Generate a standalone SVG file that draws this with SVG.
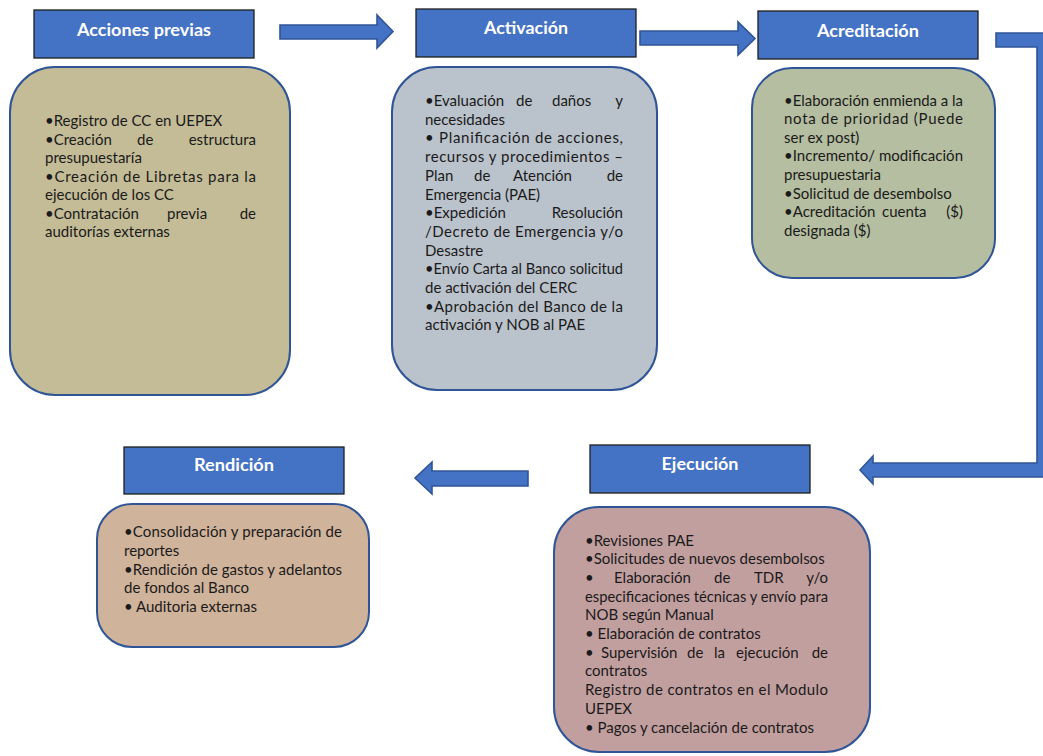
<svg xmlns="http://www.w3.org/2000/svg" width="1043" height="756" viewBox="0 0 1043 756">
<style>
.hdr rect{fill:#4472C4;stroke:#1e1e1e;stroke-width:1.3}
.hdr text{fill:#ffffff;font-family:Lato,"Open Sans","Liberation Sans",sans-serif;font-weight:bold;font-size:16.5px;text-anchor:middle}
.card rect{stroke:#2F5597;stroke-width:2}
.card text{fill:#1a1a1a;font-family:Lato,"Open Sans","Liberation Sans",sans-serif;font-size:15px}
.arr{fill:#4472C4;stroke:#2F5597;stroke-width:1.6;stroke-linejoin:miter}
</style>
<rect width="1043" height="756" fill="#ffffff"/>

<g id="connectors">
<polygon class="arr" points="280,25 377,25 377,15 393,31.5 377,48 377,39 280,39"/>
<polygon class="arr" points="640,31 738,31 738,22 755,38.5 738,55 738,45 640,45"/>
<polygon class="arr" points="996,33 1052,33 1052,477 873,477 873,484 860,470 873,456 873,463 1037,463 1037,47 996,47"/>
<polygon class="arr" points="528,471 432,471 432,462 415,478 432,494 432,486 528,486"/>
</g>

<g id="acciones-previas">
<g class="hdr"><rect x="34" y="10" width="220" height="48"/><text x="144" y="36" textLength="134" lengthAdjust="spacingAndGlyphs">Acciones previas</text></g>
<g class="card"><rect x="10" y="67" width="280" height="328" rx="45" ry="45" fill="#C4BC96"/>
<text x="45" y="126">•Registro de CC en UEPEX</text>
<text y="144.5"><tspan x="45">•Creación</tspan><tspan x="137">de</tspan><tspan x="256" text-anchor="end">estructura</tspan></text>
<text x="45" y="163">presupuestaría</text>
<text x="45" y="181.5" textLength="211" lengthAdjust="spacing">•Creación de Libretas para la</text>
<text x="45" y="200">ejecución de los CC</text>
<text y="218.5"><tspan x="45">•Contratación</tspan><tspan x="167">previa</tspan><tspan x="256" text-anchor="end">de</tspan></text>
<text x="45" y="237">auditorías externas</text>
</g>
</g>

<g id="activacion">
<g class="hdr"><rect x="416" y="9" width="220" height="48"/><text x="526" y="34" textLength="84" lengthAdjust="spacingAndGlyphs">Activación</text></g>
<g class="card"><rect x="392" y="67" width="265" height="323" rx="45" ry="45" fill="#BAC2CB"/>
<text y="106"><tspan x="425">•Evaluación</tspan><tspan x="516">de</tspan><tspan x="552">daños</tspan><tspan x="623" text-anchor="end">y</tspan></text>
<text x="425" y="124.7">necesidades</text>
<text x="425" y="143.4" textLength="198" lengthAdjust="spacing">• Planificación de acciones,</text>
<text x="425" y="162.1" textLength="198" lengthAdjust="spacing">recursos y procedimientos –</text>
<text y="180.8"><tspan x="425">Plan</tspan><tspan x="474">de</tspan><tspan x="513">Atención</tspan><tspan x="623" text-anchor="end">de</tspan></text>
<text x="425" y="199.5">Emergencia (PAE)</text>
<text y="218.2"><tspan x="425">•Expedición</tspan><tspan x="623" text-anchor="end">Resolución</tspan></text>
<text x="425" y="236.9" textLength="198" lengthAdjust="spacing">/Decreto de Emergencia y/o</text>
<text x="425" y="255.6">Desastre</text>
<text x="425" y="274.3" textLength="198" lengthAdjust="spacingAndGlyphs">•Envío Carta al Banco solicitud</text>
<text x="425" y="293">de activación del CERC</text>
<text x="425" y="311.7" textLength="198" lengthAdjust="spacing">•Aprobación del Banco de la</text>
<text x="425" y="330.4">activación y NOB al PAE</text>
</g>
</g>

<g id="acreditacion">
<g class="hdr"><rect x="758" y="11" width="220" height="48"/><text x="868" y="37" textLength="102" lengthAdjust="spacingAndGlyphs">Acreditación</text></g>
<g class="card"><rect x="752" y="68" width="243" height="210" rx="40" ry="40" fill="#B5BEA0"/>
<text x="784" y="105.5" textLength="179" lengthAdjust="spacingAndGlyphs">•Elaboración enmienda a la</text>
<text x="784" y="124" textLength="179" lengthAdjust="spacing">nota de prioridad (Puede</text>
<text x="784" y="142.7">ser ex post)</text>
<text x="784" y="161.3" textLength="179" lengthAdjust="spacing">•Incremento/ modificación</text>
<text x="784" y="180">presupuestaria</text>
<text x="784" y="198.5">•Solicitud de desembolso</text>
<text y="217"><tspan x="784">•Acreditación</tspan><tspan x="882">cuenta</tspan><tspan x="963" text-anchor="end">($)</tspan></text>
<text x="784" y="235.7">designada ($)</text>
</g>
</g>

<g id="ejecucion">
<g class="hdr"><rect x="590" y="445" width="220" height="48"/><text x="700" y="470" textLength="77" lengthAdjust="spacingAndGlyphs">Ejecución</text></g>
<g class="card"><rect x="554" y="507" width="316" height="245" rx="45" ry="45" fill="#C29F9F"/>
<text x="585" y="545.5">•Revisiones PAE</text>
<text x="585" y="564.2">•Solicitudes de nuevos desembolsos</text>
<text y="582.9"><tspan x="585">•</tspan><tspan x="614">Elaboración</tspan><tspan x="714">de</tspan><tspan x="754">TDR</tspan><tspan x="828" text-anchor="end">y/o</tspan></text>
<text x="585" y="601.6" textLength="243" lengthAdjust="spacingAndGlyphs">especificaciones técnicas y envío para</text>
<text x="585" y="620.3">NOB según Manual</text>
<text x="585" y="639">• Elaboración de contratos</text>
<text y="657.7"><tspan x="585">•</tspan><tspan x="601">Supervisión</tspan><tspan x="687">de</tspan><tspan x="714">la</tspan><tspan x="736">ejecución</tspan><tspan x="828" text-anchor="end">de</tspan></text>
<text x="585" y="676.4">contratos</text>
<text x="585" y="695.1" textLength="243" lengthAdjust="spacing">Registro de contratos en el Modulo</text>
<text x="585" y="713.8">UEPEX</text>
<text x="585" y="732.5">• Pagos y cancelación de contratos</text>
</g>
</g>

<g id="rendicion">
<g class="hdr"><rect x="124" y="447" width="220" height="47"/><text x="234" y="471" textLength="80" lengthAdjust="spacingAndGlyphs">Rendición</text></g>
<g class="card"><rect x="97" y="504" width="272" height="143" rx="35" ry="35" fill="#D0B39B"/>
<text x="124" y="537" textLength="218" lengthAdjust="spacing">•Consolidación y preparación de</text>
<text x="124" y="555.7">reportes</text>
<text x="124" y="574.5" textLength="218" lengthAdjust="spacing">•Rendición de gastos y adelantos</text>
<text x="124" y="593.2">de fondos al Banco</text>
<text x="124" y="612">• Auditoria externas</text>
</g>
</g>
</svg>
